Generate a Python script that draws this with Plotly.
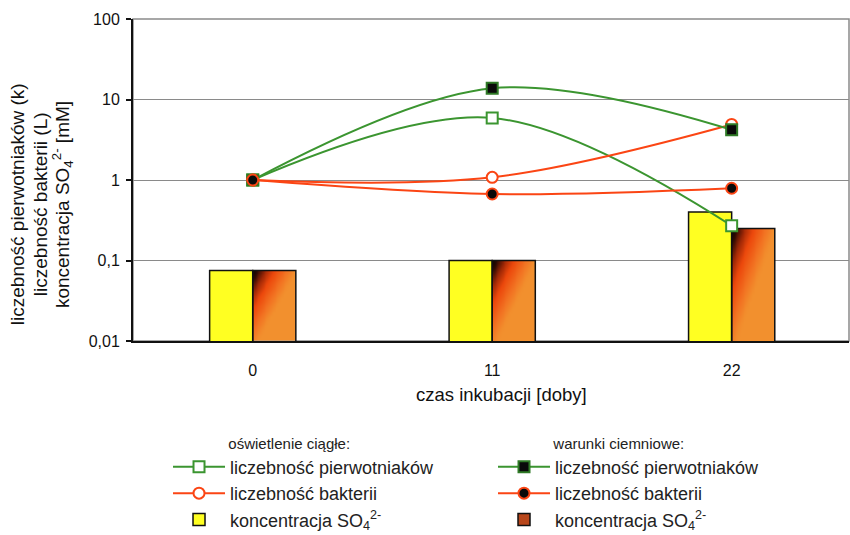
import numpy as np
import plotly.graph_objects as go

# incubation time (days)
days = ["0", "11", "22"]

# continuous light
light_protozoa = [1.0, 5.9, 0.27]
light_bacteria = [1.0, 1.08, 4.9]
light_so4 = [0.075, 0.10, 0.40]

# darkness
dark_protozoa = [1.0, 13.8, 4.2]
dark_bacteria = [1.0, 0.67, 0.79]
dark_so4 = [0.075, 0.10, 0.25]

y_tick_vals = [0.01, 0.1, 1, 10, 100]
y_tick_text = ["0,01", "0,1", "1", "10", "100"]

y_title_lines = [
    "liczebność pierwotniaków (k)",
    "liczebność bakterii (L)",
    "koncentracja SO<sub>4</sub><sup>2-</sup> [mM]",
]

FONT = "Liberation Sans, Arial, sans-serif"
GREEN = "#3b9530"
RED = "#fb4514"
BAR_W = 0.18
Y_MIN = 0.01

pos = list(range(len(days)))

fig = go.Figure()

# diagonal dark-to-orange fill of the darkness bars
grad_scale = [
    [0.0, "#080400"], [0.12, "#2e0a02"], [0.3, "#a02806"],
    [0.5, "#ec480c"], [0.78, "#f27222"], [1.0, "#f2902e"],
]
n = 16
for xi, v in zip(pos, dark_so4):
    xe = np.linspace(xi, xi + BAR_W, n + 1)
    ye = 10 ** np.linspace(np.log10(Y_MIN), np.log10(v), n + 1)
    xf = (np.arange(n) + 0.5) / n
    yt = 1 - (np.arange(n) + 0.5) / n
    z = np.clip(1.0 * xf[None, :] + 0.9 * yt[:, None], 0, 1)
    fig.add_trace(go.Heatmap(
        x=xe, y=ye, z=z, zmin=0, zmax=1, colorscale=grad_scale,
        zsmooth="best", showscale=False, hoverinfo="skip", showlegend=False,
    ))

so4_label = "koncentracja SO<sub>4</sub><sup>2-</sup>"

fig.add_trace(go.Bar(
    x=pos, y=light_so4, width=BAR_W, offset=-BAR_W,
    marker=dict(color="#ffff22", line=dict(color="#111111", width=1.5)),
    name=so4_label, legend="legend", legendrank=3,
))
fig.add_trace(go.Bar(
    x=pos, y=dark_so4, width=BAR_W, offset=0,
    marker=dict(color="rgba(0,0,0,0)", line=dict(color="#111111", width=1.5)),
    showlegend=False,
))
# legend swatch for the darkness bars
fig.add_trace(go.Bar(
    x=[None], y=[None], name=so4_label, legend="legend2", legendrank=3,
    marker=dict(color="#b8461a", line=dict(color="#111111", width=1.5)),
))

fig.add_trace(go.Scatter(
    x=pos, y=light_protozoa, name="liczebność pierwotniaków",
    legend="legend", legendrank=1, mode="lines+markers",
    line=dict(shape="spline", smoothing=1.0, width=2, color=GREEN),
    marker=dict(symbol="square", size=11, color="white", line=dict(color=GREEN, width=2)),
))
fig.add_trace(go.Scatter(
    x=pos, y=light_bacteria, name="liczebność bakterii",
    legend="legend", legendrank=2, mode="lines+markers",
    line=dict(shape="spline", smoothing=1.0, width=2, color=RED),
    marker=dict(symbol="circle", size=11, color="white", line=dict(color=RED, width=2)),
))
fig.add_trace(go.Scatter(
    x=pos, y=dark_protozoa, name="liczebność pierwotniaków ",
    legend="legend2", legendrank=1, mode="lines+markers",
    line=dict(shape="spline", smoothing=1.0, width=2, color=GREEN),
    marker=dict(symbol="square", size=11, color="#0a0a0a", line=dict(color="#2f7a26", width=2)),
))
fig.add_trace(go.Scatter(
    x=pos, y=dark_bacteria, name="liczebność bakterii ",
    legend="legend2", legendrank=2, mode="lines+markers",
    line=dict(shape="spline", smoothing=1.0, width=2, color=RED),
    marker=dict(symbol="circle", size=11, color="#0a0a0a", line=dict(color=RED, width=2)),
))

XR = [-0.5, 2.49]
legend_common = dict(
    font=dict(family=FONT, size=18, color="#222222"),
    bgcolor="rgba(0,0,0,0)", borderwidth=0, itemwidth=52,
    yanchor="top", xanchor="left", traceorder="normal",
    itemclick=False, itemdoubleclick=False,
)
title_font = dict(family=FONT, size=15, color="#222222")
pad = "\u00a0" * 14

# rotated y title, one annotation per line
y_title_x = [-0.162, -0.1299, -0.0992]
annotations = [
    dict(text=t, xref="paper", yref="paper", x=xp, y=0.425, textangle=-90,
         showarrow=False, xanchor="center", yanchor="middle",
         font=dict(family=FONT, size=19, color="#111111"))
    for t, xp in zip(y_title_lines, y_title_x)
]
annotations.append(
    dict(text="czas inkubacji [doby]", xref="paper", yref="paper",
         x=0.514, y=-0.165, showarrow=False, xanchor="center", yanchor="middle",
         font=dict(family=FONT, size=18.5, color="#111111"))
)

fig.update_layout(
    width=850, height=535,
    margin=dict(l=133, r=1, t=19, b=194, autoexpand=False),
    paper_bgcolor="white", plot_bgcolor="white",
    font=dict(family=FONT, size=16, color="#111111"),
    barmode="overlay",
    xaxis=dict(
        range=XR, tickvals=pos, ticktext=days, ticks="", showgrid=False,
        zeroline=False, showline=True, linecolor="#111111", linewidth=2,
        ticklabelstandoff=14, tickfont=dict(size=16),
    ),
    xaxis2=dict(
        range=XR, overlaying="x", anchor="y", side="bottom",
        tickvals=[p + 0.5 for p in pos[:-1]], ticks="outside", ticklen=5,
        tickwidth=2, tickcolor="#111111", showticklabels=False,
        showgrid=False, zeroline=False, showline=False,
    ),
    yaxis=dict(
        type="log", range=[np.log10(Y_MIN), 2], tickvals=y_tick_vals,
        ticktext=y_tick_text, ticks="outside", ticklen=5, tickwidth=2,
        tickcolor="#111111", showgrid=True, gridcolor="#8a8a8a", gridwidth=1,
        showline=True, linecolor="#111111", linewidth=2, zeroline=False,
        ticklabelstandoff=3, tickfont=dict(size=16),
    ),
    legend=dict(x=0.0489, y=-0.2735,
                title=dict(text=pad + "oświetlenie ciągłe:", side="top", font=title_font),
                **legend_common),
    legend2=dict(x=0.5028, y=-0.2735,
                 title=dict(text=pad + "warunki ciemniowe:", side="top", font=title_font),
                 **legend_common),
    shapes=[dict(type="rect", xref="paper", yref="paper", x0=0, x1=1, y0=0, y1=1,
                 line=dict(color="#8a8a8a", width=1.5), layer="below")],
    annotations=annotations,
)

fig.write_html("out.html")
